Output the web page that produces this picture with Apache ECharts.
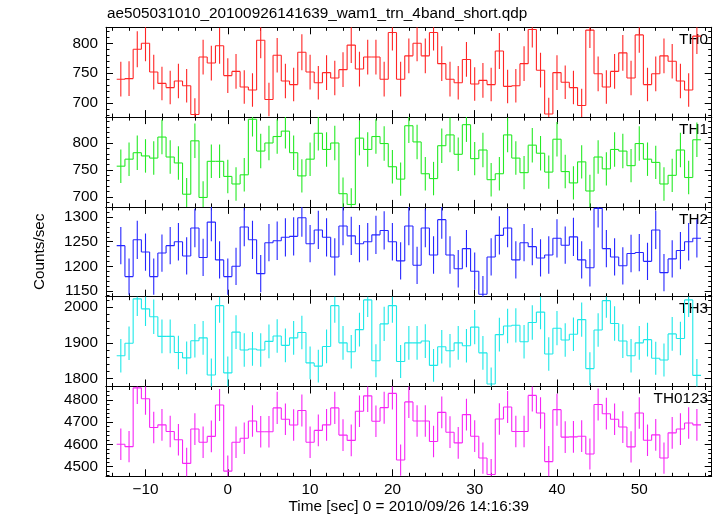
<!DOCTYPE html>
<html><head><meta charset="utf-8">
<script src="https://cdn.jsdelivr.net/npm/echarts@6/dist/echarts.min.js"></script>
<style>html,body{margin:0;padding:0;background:#fff}#c{width:717px;height:516px}</style>
</head><body><div id="c"></div>
<script>
// ---- data ----
const times = [-13,-12,-11,-10,-9,-8,-7,-6,-5,-4,-3,-2,-1,0,1,2,3,4,5,6,7,8,9,10,11,12,13,14,15,16,17,18,19,20,21,22,23,24,25,26,27,28,29,30,31,32,33,34,35,36,37,38,39,40,41,42,43,44,45,46,47,48,49,50,51,52,53,54,55,56,57];
const th0 = [740,741,790,800,752,733,726,737,729,681,777,767,796,746,753,727,722,805,706,780,737,731,785,752,734,751,742,756,797,757,777,777,740,818,740,779,800,779,818,766,740,734,773,732,738,731,787,728,729,766,823,755,682,751,735,726,696,822,749,727,753,784,742,814,731,749,779,770,737,722,812];
const th0Err = [29,29,30,30,29,28,28,29,28,27,29,29,30,29,29,28,28,30,28,29,29,28,30,29,28,29,29,29,30,29,29,29,29,30,29,29,30,29,30,29,29,28,29,28,29,28,30,28,28,29,30,29,27,29,28,28,28,30,29,28,29,30,29,30,28,29,29,29,29,28,30];
const th1 = [757,770,782,776,772,811,774,763,705,804,699,766,766,738,724,741,844,785,800,812,822,782,739,770,818,788,800,706,686,809,788,812,799,756,733,832,802,743,734,795,815,779,834,771,787,732,743,815,772,745,796,781,746,807,747,726,765,711,774,752,788,785,758,799,770,764,724,740,787,736,806];
const th1Err = [31,31,32,31,31,32,31,31,30,32,30,31,31,31,31,31,32,32,32,32,32,32,31,31,32,32,32,30,30,32,32,32,32,31,31,32,32,31,31,32,32,31,32,31,32,31,31,32,31,31,32,32,31,32,31,31,31,30,31,31,32,32,31,32,31,31,31,31,32,31,32];
const th2 = [1242,1179,1254,1229,1179,1227,1242,1250,1221,1278,1218,1290,1213,1179,1200,1280,1254,1185,1248,1252,1259,1261,1299,1246,1274,1259,1219,1282,1262,1246,1250,1264,1273,1250,1211,1282,1202,1278,1223,1295,1223,1195,1236,1190,1143,1219,1263,1278,1213,1248,1240,1217,1223,1257,1243,1260,1213,1197,1318,1236,1219,1201,1226,1228,1210,1274,1187,1215,1232,1250,1257];
const th2Err = [38,37,39,38,37,38,38,38,38,39,38,39,38,37,38,39,39,38,38,39,39,39,39,38,39,39,38,39,39,38,38,39,39,38,38,39,38,39,38,39,38,38,38,38,37,38,39,39,38,38,38,38,38,39,38,39,38,38,39,38,38,38,38,38,38,39,38,38,38,38,39];
const th3 = [1864,1899,2023,1995,1973,1918,1918,1873,1858,1906,1914,1810,2004,1816,1930,1880,1883,1880,1904,1919,1893,1914,1929,1844,1835,1890,2004,1900,1875,1937,2020,1850,1953,2004,1848,1900,1900,1905,1837,1889,1878,1900,1892,1944,1872,1785,1923,1947,1949,1903,1957,1986,1869,1941,1908,1924,1965,1828,1936,2018,1954,1905,1864,1900,1909,1857,1852,1925,1912,2020,1809];
const th3Err = [47,47,48,48,48,47,47,47,46,47,47,46,48,46,47,47,47,47,47,47,47,47,47,46,46,47,48,47,47,47,48,46,48,48,46,47,47,47,46,47,47,47,47,48,47,46,47,48,48,47,48,48,47,48,47,47,48,46,47,48,48,47,47,47,47,46,46,47,47,48,46];
const th0123 = [4601,4590,4854,4805,4676,4688,4658,4621,4515,4669,4610,4636,4777,4480,4610,4628,4705,4657,4657,4764,4713,4687,4752,4610,4663,4688,4764,4642,4618,4749,4818,4704,4765,4829,4530,4791,4705,4705,4613,4744,4655,4607,4734,4637,4539,4465,4714,4768,4658,4658,4820,4741,4523,4756,4633,4634,4637,4557,4779,4738,4713,4678,4589,4741,4619,4643,4539,4652,4669,4696,4688];
const th0123Err = [71,70,72,72,71,71,71,71,70,71,71,71,72,70,71,71,71,71,71,72,71,71,72,71,71,71,72,71,71,71,72,71,72,72,70,72,71,71,71,71,71,71,71,71,70,70,71,72,71,71,72,71,70,72,71,71,71,70,72,71,71,71,70,71,71,71,70,71,71,71,71];

const panelNames = ['TH0','TH1','TH2','TH3','TH0123'];
const xTickLabels = [-10,0,10,20,30,40,50];
const yTickLabels = [[700,750,800],[700,750,800],[1150,1200,1250,1300],[1800,1900,2000],[4500,4600,4700,4800]];

const title = 'ae505031010_20100926141639_wam1_trn_4band_short.qdp';
const xTitle = 'Time [sec] 0 = 2010/09/26 14:16:39';
const yTitle = 'Counts/sec';

// ---- layout / style ----
const values = [th0, th1, th2, th3, th0123];
const errors = [th0Err, th1Err, th2Err, th3Err, th0123Err];
const colors = ['#ff2626', '#26ea26', '#2626ff', '#1ee8e8', '#f626f6'];
const yRanges = [[676.7,826.7],[681.5,848],[1138,1321],[1778,2029],[4457,4860]];
const yMinorStep = [10,10,10,20,20];
const X_MIN = -14.8, X_MAX = 58.8;
const GL = 106, GW = 605.7, GT = 27.3, GH = 89.8;
const FF = '"Liberation Sans", Arial, Helvetica, sans-serif';
const FS = 15.3;

function range(a, b, s) { const r = []; for (let v = a; v <= b + 1e-9; v += s) r.push(v); return r; }
const xMinor = range(-14, 58, 2);

const grids = [], xAxes = [], yAxes = [], series = [], graphics = [];

function xAx(i, pos, ticks, len, showLine, showLabel) {
  return {
    type: 'value', gridIndex: i, position: pos, min: X_MIN, max: X_MAX,
    splitLine: { show: false },
    axisLine: { show: showLine, onZero: false, lineStyle: { color: '#000', width: 1 } },
    axisTick: { show: true, inside: true, length: len, customValues: ticks, lineStyle: { color: '#000', width: 1 } },
    axisLabel: { show: showLabel, customValues: ticks, color: '#000', fontFamily: FF, fontSize: FS, margin: 6,
      formatter: v => (v < 0 ? '\u2212' + (-v) : String(v)) }
  };
}
function yAx(i, pos, ticks, len, showLine, showLabel) {
  return {
    type: 'value', gridIndex: i, position: pos, min: yRanges[i][0], max: yRanges[i][1],
    splitLine: { show: false },
    axisLine: { show: showLine, onZero: false, lineStyle: { color: '#000', width: 1 } },
    axisTick: { show: true, inside: true, length: len, customValues: ticks, lineStyle: { color: '#000', width: 1 } },
    axisLabel: { show: showLabel, customValues: ticks, color: '#000', fontFamily: FF, fontSize: FS, margin: 8,
      formatter: v => String(v) }
  };
}

for (let i = 0; i < 5; i++) {
  const top = GT + i * GH;
  grids.push({ left: GL, width: GW, top: top, height: GH, containLabel: false });
  const base = xAxes.length;
  xAxes.push(xAx(i, 'bottom', xTickLabels, 7, true, i === 4));
  xAxes.push(xAx(i, 'bottom', xMinor, 3.5, false, false));
  xAxes.push(xAx(i, 'top', xTickLabels, 7, true, false));
  xAxes.push(xAx(i, 'top', xMinor, 3.5, false, false));
  const ybase = yAxes.length;
  const yMinor = range(Math.ceil(yRanges[i][0] / yMinorStep[i]) * yMinorStep[i], yRanges[i][1], yMinorStep[i]);
  yAxes.push(yAx(i, 'left', yTickLabels[i], 7, true, true));
  yAxes.push(yAx(i, 'left', yMinor, 3.5, false, false));
  yAxes.push(yAx(i, 'right', yTickLabels[i], 7, true, false));
  yAxes.push(yAx(i, 'right', yMinor, 3.5, false, false));

  const vals = values[i], errs = errors[i];
  const data = times.map((t, k) => [t, vals[k], errs[k], k + 1 < vals.length ? vals[k + 1] : vals[k]]);
  const col = colors[i];
  series.push({
    type: 'custom', xAxisIndex: base, yAxisIndex: ybase, clip: true, silent: true,
    data: data,
    renderItem: function (params, api) {
      const t = api.value(0), v = api.value(1), e = api.value(2), vn = api.value(3);
      const pL = api.coord([t - 0.5, v]), pR = api.coord([t + 0.5, v]);
      const eT = api.coord([t, v + e]), eB = api.coord([t, v - e]);
      const pN = api.coord([t + 0.5, vn]);
      const st = { stroke: col, lineWidth: 1.1, fill: null };
      return {
        type: 'group',
        children: [
          { type: 'line', shape: { x1: pL[0], y1: pL[1], x2: pR[0], y2: pR[1] }, style: st },
          { type: 'line', shape: { x1: eT[0], y1: eT[1], x2: eB[0], y2: eB[1] }, style: st },
          { type: 'line', shape: { x1: pR[0], y1: pR[1], x2: pN[0], y2: pN[1] }, style: st }
        ]
      };
    }
  });

  graphics.push({
    type: 'text', right: 717 - 708, top: top + 5,
    style: { text: panelNames[i], fill: '#000', font: FS + 'px ' + FF }
  });
}

graphics.push({ type: 'text', left: 107, top: 6, style: { text: title, fill: '#000', font: FS + 'px ' + FF } });
graphics.push({ type: 'text', x: GL + GW / 2, y: 507, style: { text: xTitle, fill: '#000', font: FS + 'px ' + FF, align: 'center', verticalAlign: 'middle' } });
graphics.push({ type: 'text', x: 40, y: GT + 2.5 * GH, rotation: Math.PI / 2, style: { text: yTitle, fill: '#000', font: FS + 'px ' + FF, align: 'center', verticalAlign: 'middle' } });

const chart = echarts.init(document.getElementById('c'), null, { renderer: 'canvas' });
chart.setOption({
  animation: false,
  backgroundColor: '#fff',
  grid: grids, xAxis: xAxes, yAxis: yAxes, series: series, graphic: graphics
});
</script>
</body></html>
